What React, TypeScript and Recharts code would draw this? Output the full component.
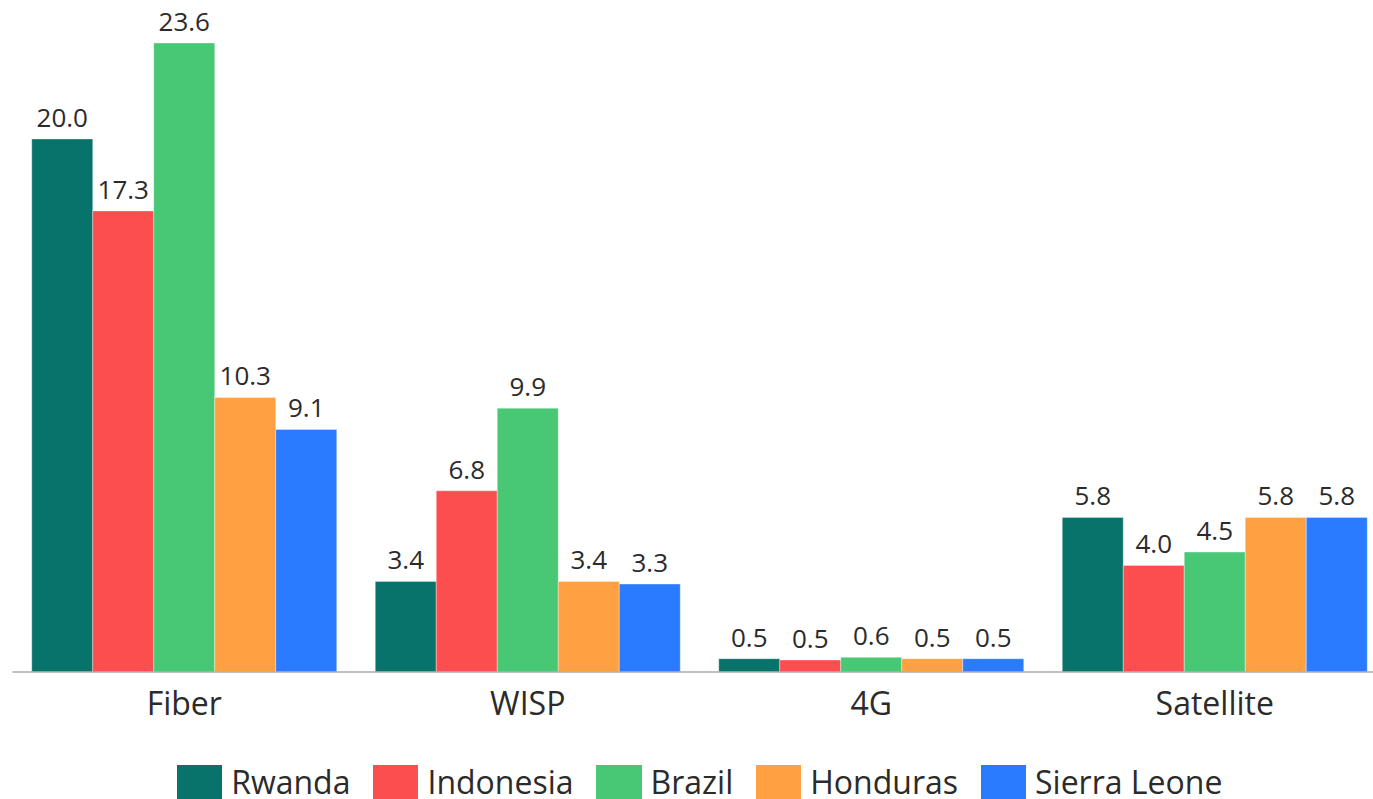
import * as React from "react";
import { BarChart, Bar, XAxis, YAxis, Legend, LabelList } from "recharts";

const categories = ["Fiber", "WISP", "4G", "Satellite"];
const rwanda = [20.0, 3.4, 0.5, 5.8];
const indonesia = [17.3, 6.8, 0.45, 4.0];
const brazil = [23.6, 9.9, 0.55, 4.5];
const honduras = [10.3, 3.4, 0.5, 5.8];
const sierraLeone = [9.1, 3.3, 0.5, 5.8];

const series = [
  { key: "rwanda", name: "Rwanda", values: rwanda, color: "#08736B" },
  { key: "indonesia", name: "Indonesia", values: indonesia, color: "#FC4D4F" },
  { key: "brazil", name: "Brazil", values: brazil, color: "#48C774" },
  { key: "honduras", name: "Honduras", values: honduras, color: "#FFA043" },
  { key: "sierraLeone", name: "Sierra Leone", values: sierraLeone, color: "#2A7BFF" },
];

const data = categories.map((c, i) => {
  const row: Record<string, string | number> = { category: c };
  series.forEach((s) => {
    row[s.key] = s.values[i];
  });
  return row;
});

const FONT = "'Open Sans', 'Noto Sans', sans-serif";
const TEXT = "#2b2b2b";

function LegendContent(props: any) {
  const order = series.map((s) => s.name);
  const items = [...(props.payload ?? [])].sort(
    (a: any, b: any) => order.indexOf(a.value) - order.indexOf(b.value)
  );
  return (
    <div
      style={{
        display: "flex",
        justifyContent: "center",
        fontFamily: FONT,
        fontSize: 32,
        color: TEXT,
      }}
    >
      {items.map((p: any, i: number) => (
        <div
          key={p.value}
          style={{
            display: "flex",
            alignItems: "flex-start",
            marginRight: i === items.length - 1 ? 0 : 22.5,
          }}
        >
          <div
            style={{
              width: 45.5,
              height: 45.5,
              background: p.color,
              marginRight: 9,
            }}
          />
          <span style={{ lineHeight: "41px", marginTop: -4 }}>{p.value}</span>
        </div>
      ))}
    </div>
  );
}

export default function App() {
  return (
    <div
      style={{
        position: "absolute",
        left: 0,
        top: 0,
        width: 1373,
        height: 799,
        overflow: "hidden",
        background: "#fff",
      }}
    >
      <BarChart
        width={1399}
        height={815}
        data={data}
        margin={{ top: 5.7, right: 12.5, left: 12.5, bottom: 83 }}
        barCategoryGap={19.25}
        barGap={0}
      >
        <XAxis
          dataKey="category"
          height={60}
          tickLine={false}
          tickMargin={14}
          axisLine={{ stroke: "#ababab", strokeWidth: 1.5 }}
          tick={{ fill: TEXT, fontSize: 32, fontFamily: FONT }}
        />
        <YAxis hide domain={[0, 25]} />
        <Legend
          verticalAlign="middle"
          align="center"
          content={<LegendContent />}
          wrapperStyle={{ top: 765, left: 0, width: 1399 }}
        />
        {series.map((s) => (
          <Bar
            key={s.key}
            dataKey={s.key}
            name={s.name}
            fill={s.color}
            stroke="rgba(255,255,255,0.35)"
            strokeWidth={1}
            isAnimationActive={false}
          >
            <LabelList
              dataKey={s.key}
              position="top"
              offset={12}
              formatter={(v: any) => Number(v).toFixed(1)}
              style={{ fill: TEXT, fontSize: 26, fontFamily: FONT }}
            />
          </Bar>
        ))}
      </BarChart>
    </div>
  );
}
